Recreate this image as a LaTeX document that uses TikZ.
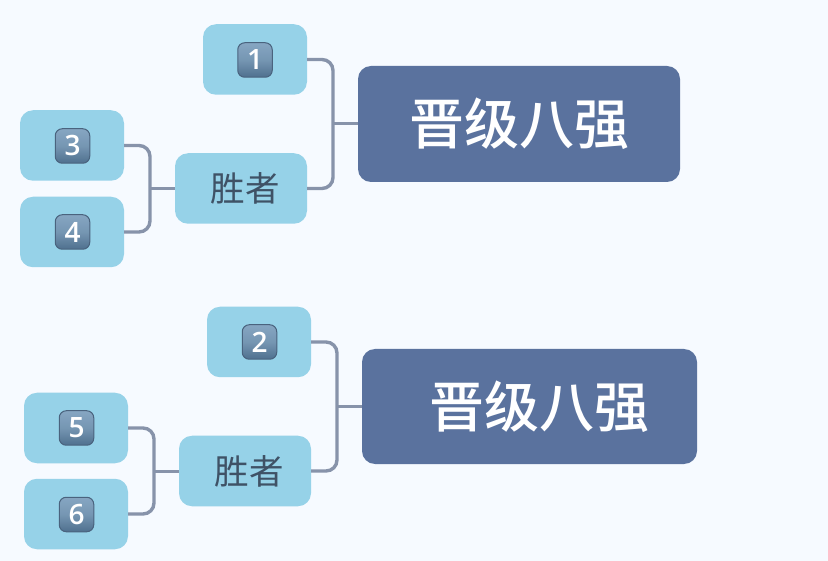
\documentclass[tikz,border=0pt]{standalone}
\usepackage{fontspec}
\newfontfamily\cjkreg{Noto Sans CJK SC}
\newfontfamily\cjkbold{Noto Sans CJK SC Medium}
\newfontfamily\capfont{Open Sans Semibold}
\definecolor{pagebg}{HTML}{F6FAFF}
\definecolor{leafblue}{HTML}{96D2E8}
\definecolor{headblue}{HTML}{5A729E}
\definecolor{linkgrey}{HTML}{8793AA}
\definecolor{inkgrey}{HTML}{3F5266}
\definecolor{captop}{HTML}{86A6C2}
\definecolor{capbot}{HTML}{4F708E}
\definecolor{capedge}{HTML}{4A637E}
\tikzset{
  x=1pt, y=-1pt,
  leaf/.style={fill=leafblue, rounded corners=13pt, inner sep=0pt, minimum width=104pt, minimum height=70.5pt},
  winner/.style={fill=leafblue, rounded corners=13pt, inner sep=0pt, minimum width=132pt, minimum height=70.5pt,
    text=inkgrey, font=\cjkreg\fontsize{34.5}{34.5}\selectfont},
  head/.style={fill=headblue, rounded corners=13pt, inner sep=0pt, minimum height=116pt,
    text=white, font=\cjkbold\fontsize{55}{55}\selectfont},
  keycap/.style={draw=capedge, line width=1pt, rounded corners=7pt, top color=captop, bottom color=capbot,
    middle color=captop!70!capbot, inner sep=0pt, minimum width=34.5pt, minimum height=34.5pt,
    text=white, font=\capfont\fontsize{28}{28}\selectfont},
  link/.style={draw=linkgrey, line width=3.4pt, rounded corners=11pt},
  stem/.style={draw=linkgrey, line width=3pt},
}
\begin{document}
\begin{tikzpicture}
  \useasboundingbox[fill=pagebg] (0,0) rectangle (828,561);

  % upper bracket
  \node[leaf] (a1) at (255,59.5) {};
  \node[leaf] (a3) at (72,145.5) {};
  \node[leaf] (a4) at (72,232) {};
  \node[winner] (aw) at (241,188.5) {\hspace{8pt}胜者};
  \node[head, minimum width=322pt] (ah) at (519,124) {晋级八强};
  \node[keycap] (k1) at (255,60) {1};
  \node[keycap] (k3) at (72.5,146) {3};
  \node[keycap] (k4) at (72.5,232) {4};
  \coordinate (aj) at (333,124);
  \coordinate (bj) at (150,188.5);
  \draw[link] (a1.east) -| (aj) |- (aw.east);
  \draw[stem] (aj) -- (ah.west);
  \draw[link] (a3.east) -| (bj) |- (a4.east);
  \draw[stem] (bj) -- (aw.west);

  % lower bracket
  \node[leaf] (c2) at (259,342) {};
  \node[leaf] (c5) at (76,428) {};
  \node[leaf] (c6) at (76,514) {};
  \node[winner] (cw) at (245,471) {\hspace{8pt}胜者};
  \node[head, minimum width=335pt, minimum height=115pt] (ch) at (529.5,406.5) {\hspace{19pt}晋级八强};
  \node[keycap] (k2) at (259.5,342) {2};
  \node[keycap] (k5) at (76.5,428) {5};
  \node[keycap] (k6) at (76.5,514.5) {6};
  \coordinate (cj) at (337,406.5);
  \coordinate (dj) at (154,471);
  \draw[link] (c2.east) -| (cj) |- (cw.east);
  \draw[stem] (cj) -- (ch.west);
  \draw[link] (c5.east) -| (dj) |- (c6.east);
  \draw[stem] (dj) -- (cw.west);
\end{tikzpicture}
\end{document}
